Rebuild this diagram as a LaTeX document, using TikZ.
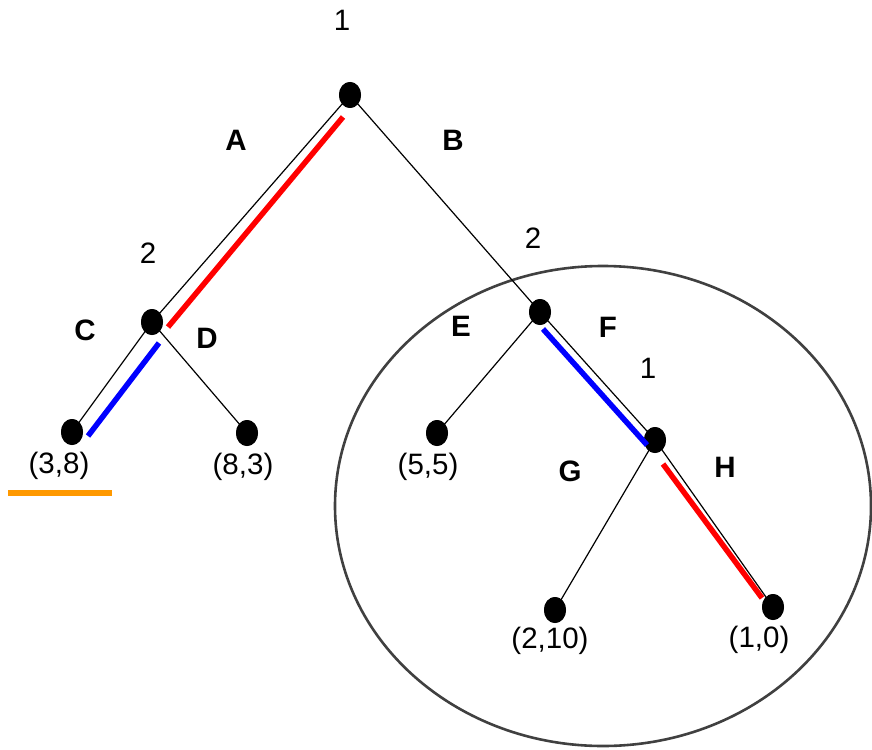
\documentclass[tikz,border=0pt]{standalone}
\usepackage{fontspec}
\setmainfont{Liberation Sans}
\usetikzlibrary{shapes.geometric}
\definecolor{hlred}{RGB}{255,0,0}
\definecolor{hlblue}{RGB}{0,0,255}
\definecolor{hlorange}{RGB}{255,153,0}
\definecolor{ringgray}{RGB}{64,64,64}
\begin{document}
\begin{tikzpicture}[x=1pt,y=-1pt,
  dot/.style={ellipse,fill=black,minimum width=22pt,minimum height=26pt,inner sep=0pt},
  edge/.style={draw=black,line width=1.2pt},
  hl/.style={line width=5.5pt},
  lbl/.style={font=\fontsize{29.5}{32}\selectfont,inner sep=0pt},
  blbl/.style={font=\fontsize{29.5}{32}\selectfont\bfseries,inner sep=0pt}]
\useasboundingbox (0,0) rectangle (872,749);
% ring
\draw[ringgray,line width=2.6pt] (603,506) ellipse [x radius=268pt,y radius=240pt];
% nodes
\node[dot] (r) at (350,95) {};
\node[dot] (p) at (152,322) {};
\node[dot] (q) at (540,312) {};
\node[dot] (s) at (655,440) {};
\node[dot] (l1) at (72,432) {};
\node[dot] (l2) at (247,433) {};
\node[dot] (l3) at (437,433) {};
\node[dot] (l4) at (555,610) {};
\node[dot] (l5) at (773,607) {};
% edges
\draw[edge] (r.center) -- (p.center);
\draw[edge] (r.center) -- (q.center);
\draw[edge] (p.center) -- (l1.center);
\draw[edge] (p.center) -- (l2.center);
\draw[edge] (q.center) -- (l3.center);
\draw[edge] (q.center) -- (s.center);
\draw[edge] (s.center) -- (l4.center);
\draw[edge] (s.center) -- (l5.center);
% redraw dots on top
\foreach \n in {r,p,q,s,l1,l2,l3,l4,l5} {\fill[black] (\n) ellipse [x radius=11pt,y radius=13pt];}
% highlights
\coordinate (a1) at (343,117); \coordinate (a2) at (168,327);
\coordinate (c1) at (159,343); \coordinate (c2) at (88,436);
\coordinate (f1) at (543,329); \coordinate (f2) at (647,445);
\coordinate (h1) at (663,464); \coordinate (h2) at (762,598);
\coordinate (o1) at (8,493); \coordinate (o2) at (112,493);
\draw[hl,hlred] (a1) -- (a2);
\draw[hl,hlblue] (c1) -- (c2);
\draw[hl,hlblue] (f1) -- (f2);
\draw[hl,hlred] (h1) -- (h2);
\draw[hl,hlorange] (o1) -- (o2);
% labels
\node[lbl] (t1) at (342,20) {1};
\node[blbl] (tA) at (236,140) {A};
\node[blbl] (tB) at (453,140) {B};
\node[lbl] (t2a) at (148,253) {2};
\node[lbl] (t2b) at (533,238) {2};
\node[blbl] (tC) at (85,330) {C};
\node[blbl] (tD) at (207,338) {D};
\node[blbl] (tE) at (461,326) {E};
\node[blbl] (tF) at (608,327) {F};
\node[lbl] (t1b) at (648,368) {1};
\node[blbl] (tG) at (570,471) {G};
\node[blbl] (tH) at (725,467) {H};
\node[lbl] (v1) at (59,466) {(3,8)};
\node[lbl] (v2) at (243,467) {(8,3)};
\node[lbl] (v3) at (428,467) {(5,5)};
\node[lbl] (v4) at (550,641) {(2,10)};
\node[lbl] (v5) at (759,640) {(1,0)};
\end{tikzpicture}
\end{document}
